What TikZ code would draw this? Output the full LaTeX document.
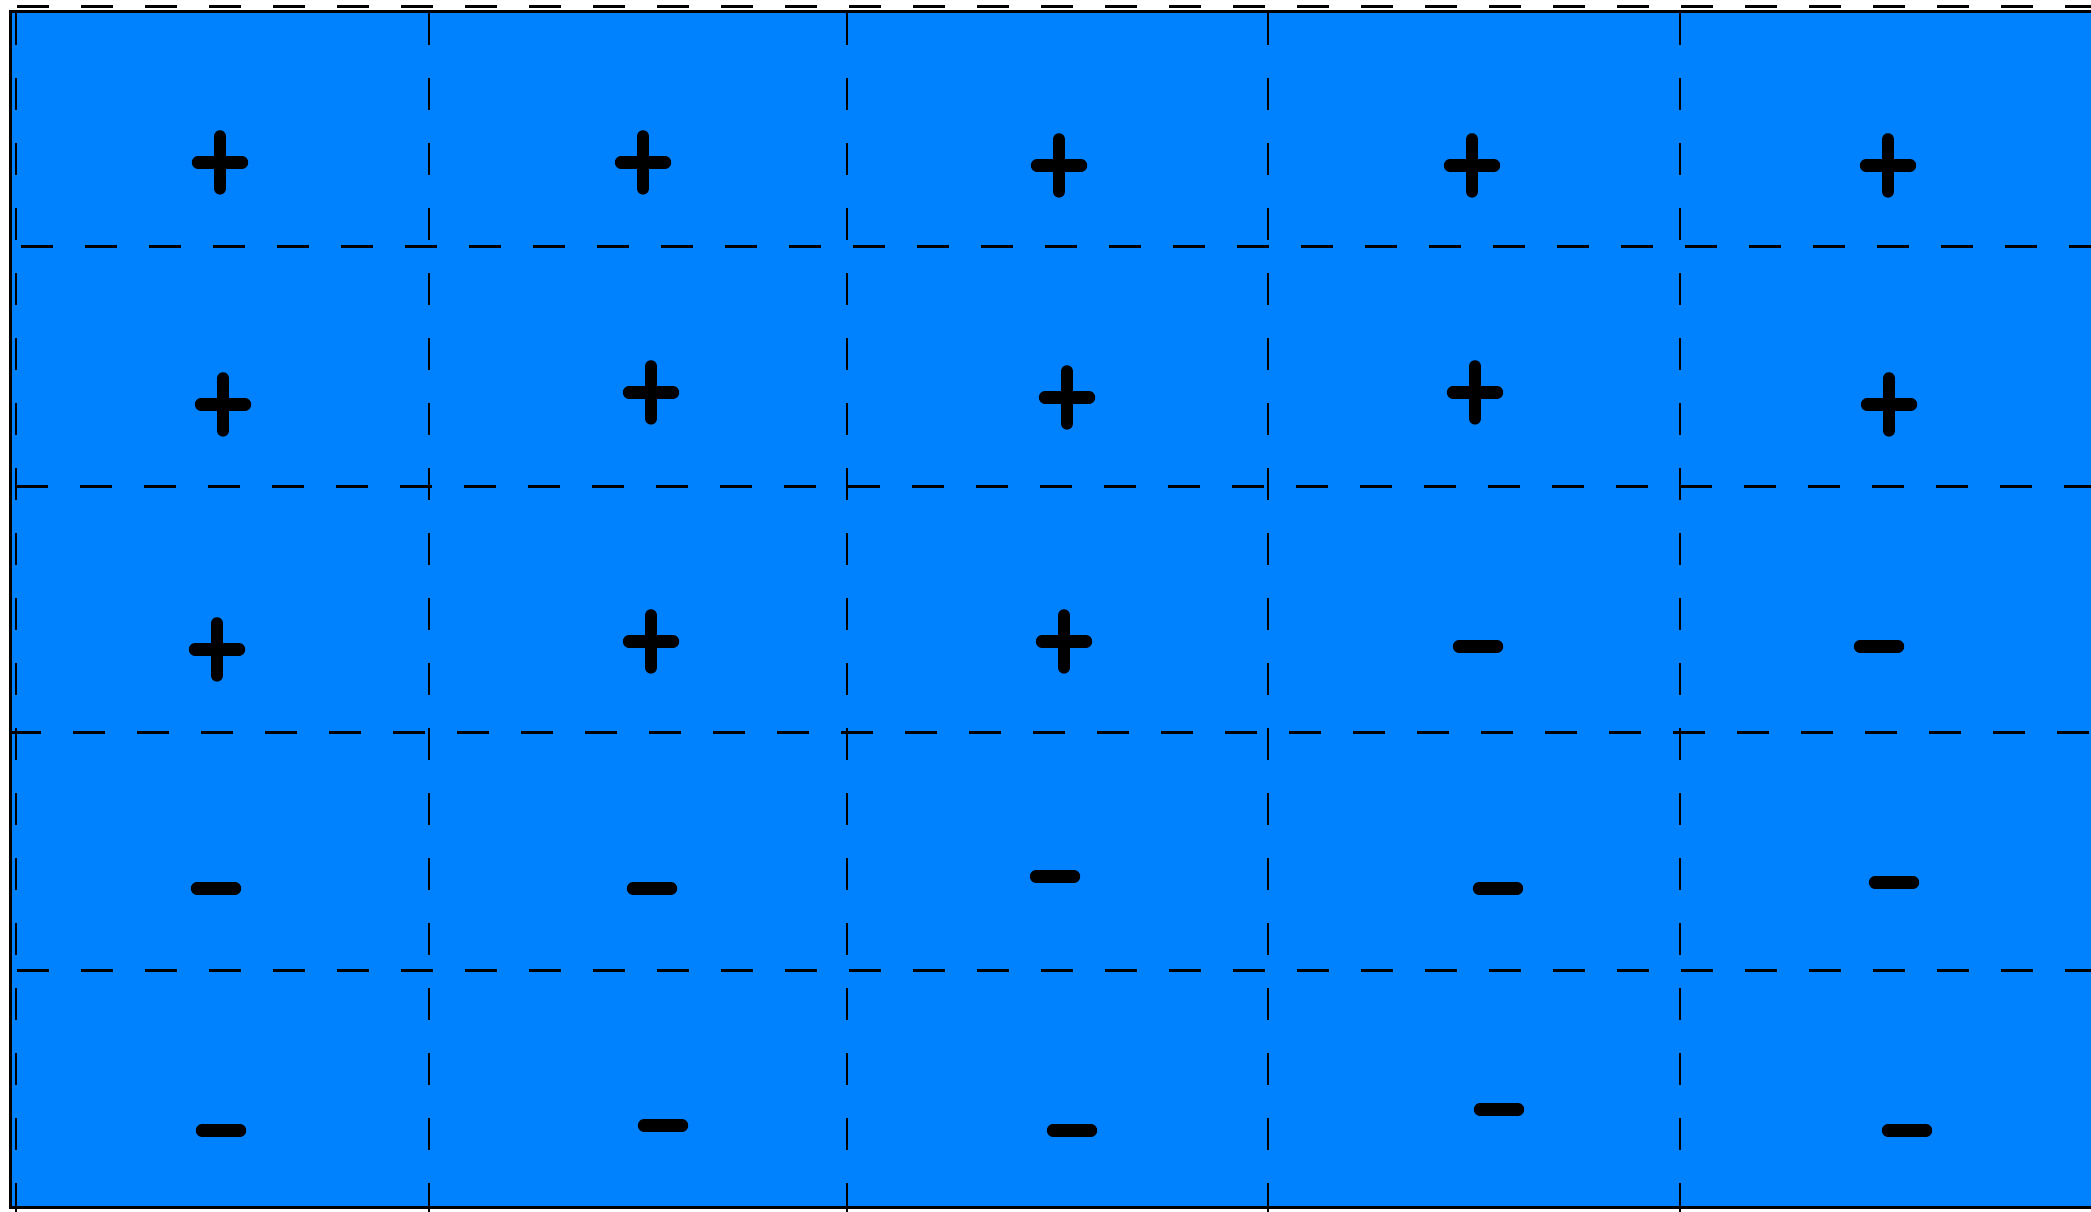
\documentclass[tikz,border=0pt]{standalone}
\definecolor{cellblue}{RGB}{0,130,255}
\tikzset{
  hline/.style={black, line width=1.2pt, dash pattern=on 16pt off 16pt},
  vline/.style={black, line width=1.2pt, dash pattern=on 16pt off 16.5pt},
  border/.style={black, line width=1.5pt},
  signstroke/.style={black, line width=6.2pt, line cap=round},
  plussign/.pic={\draw[signstroke] (-22,0) -- (22,0); \draw[signstroke] (0,-26) -- (0,26);},
  minussign/.pic={\draw[signstroke] (-19,0) -- (19,0);}
}
\begin{document}
\begin{tikzpicture}[x=0.5pt,y=-0.5pt]
\useasboundingbox (0,0) rectangle (2091,1211);
\begin{scope}[yshift=-0.7pt]
% blue field
\fill[cellblue] (10,10) rectangle (2110,1206);
\draw[border] (2110,10) -- (10,10) -- (10,1206) -- (2110,1206);
% top dashed line (above field)
\draw[hline] (17,5) -- (2110,5);
% horizontal dashed grid lines
\draw[hline] (21,245) -- (2110,245);
\draw[hline] (16,485) -- (2110,485);
\draw[hline] (9,731) -- (2110,731);
\draw[hline] (17,969) -- (2110,969);
% vertical dashed grid lines
\foreach \x in {16,429,847,1268,1680}
  \draw[vline] (\x,12) -- (\x,1230);
% row 1
\pic at (220,161) {plussign};
\pic at (643,161) {plussign};
\pic at (1059,164) {plussign};
\pic at (1472,164) {plussign};
\pic at (1888,164) {plussign};
% row 2
\pic at (223,403) {plussign};
\pic at (651,391) {plussign};
\pic at (1067,396) {plussign};
\pic at (1475,391) {plussign};
\pic at (1889,403) {plussign};
% row 3
\pic at (217,648) {plussign};
\pic at (651,640) {plussign};
\pic at (1064,640) {plussign};
\pic at (1478,645) {minussign};
\pic at (1879,645) {minussign};
% row 4
\pic at (216,887) {minussign};
\pic at (652,887) {minussign};
\pic at (1055,875) {minussign};
\pic at (1498,887) {minussign};
\pic at (1894,881) {minussign};
% row 5
\pic at (221,1129) {minussign};
\pic at (663,1124) {minussign};
\pic at (1072,1129) {minussign};
\pic at (1499,1108) {minussign};
\pic at (1907,1129) {minussign};
\end{scope}
\end{tikzpicture}
\end{document}
